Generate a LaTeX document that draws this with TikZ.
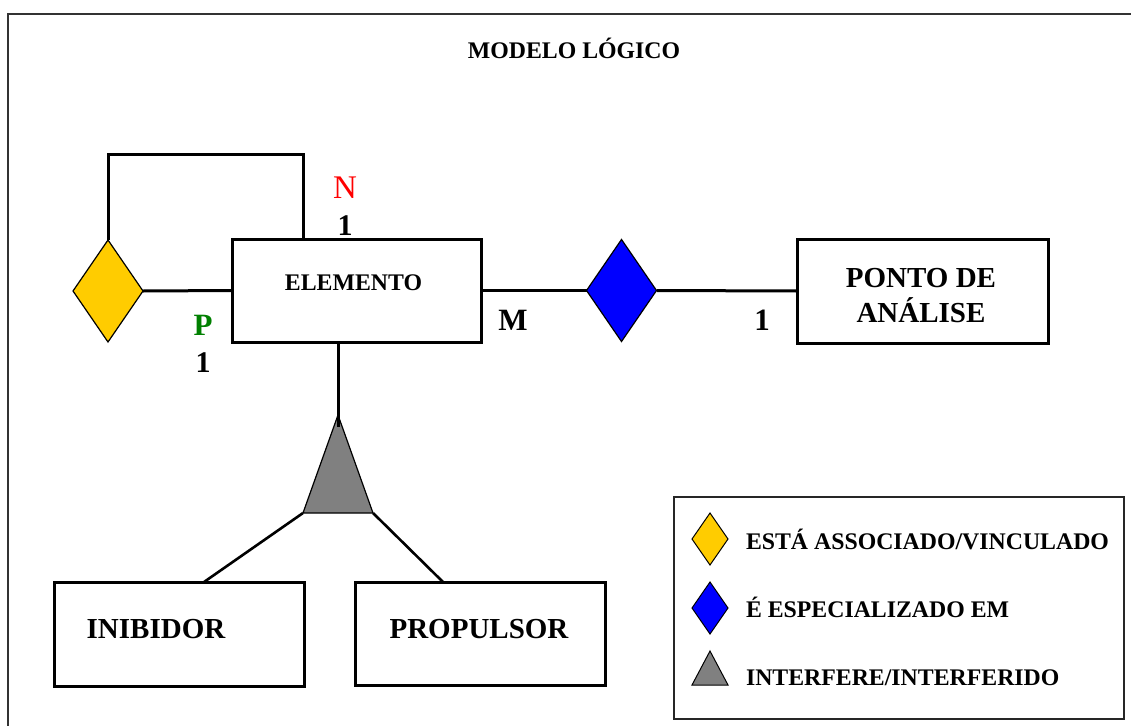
\documentclass[tikz,border=0pt]{standalone}
\usepackage{fontspec}
\setmainfont{Liberation Serif}
\usetikzlibrary{shapes.geometric,calc}

\definecolor{assocfill}{HTML}{FFCC00}
\definecolor{specfill}{HTML}{0000FF}
\definecolor{interfill}{HTML}{808080}
\definecolor{cardred}{HTML}{FF0000}
\definecolor{cardgreen}{HTML}{008000}

\begin{document}
\begin{tikzpicture}[x=1pt,y=-1pt,
  every node/.style={inner sep=0pt, outer sep=0pt},
  entitybox/.style={draw, line width=3pt, rectangle, fill=white},
  relation/.style={draw, line width=1.2pt, diamond, minimum width=70pt, minimum height=102pt},
  keyrelation/.style={draw, line width=1pt, diamond, minimum width=36pt, minimum height=52pt},
  link/.style={line width=3pt},
  bigtext/.style={font=\fontsize{29}{33}\selectfont\bfseries, anchor=base},
  smalltext/.style={font=\fontsize{23.8}{28}\selectfont\bfseries, anchor=base},
  cardtext/.style={font=\fontsize{31}{31}\selectfont\bfseries, anchor=base},
]
\clip (0,0) rectangle (1131,725);
\fill[white] (0,0) rectangle (1131,725);

% outer frame
\draw[line width=1.3pt, draw=black!80] (8,14) rectangle (1180,780);

% title
\node[smalltext] (title) at (574,58.5) {MODELO LÓGICO};

% entities
\node[entitybox, minimum width=249pt, minimum height=103pt] (elem) at (356.5,290.5) {};
\node[smalltext] (elemtext) at (353.5,290) {ELEMENTO};

\node[entitybox, minimum width=251pt, minimum height=104pt] (ponto) at (922.5,291) {};
\node[bigtext] (pontotext1) at (921,287) {PONTO DE};
\node[bigtext] (pontotext2) at (921,322) {ANÁLISE};

\node[entitybox, minimum width=250pt, minimum height=104pt] (inib) at (179,634) {};
\node[bigtext] (inibtext) at (156,638) {INIBIDOR};

\node[entitybox, minimum width=250pt, minimum height=103pt] (prop) at (480,633.5) {};
\node[bigtext] (proptext) at (479,638) {PROPULSOR};

% relationships
\node[relation, fill=assocfill] (assoc) at (108,291) {};
\node[relation, fill=specfill] (spec) at (621.5,290.5) {};

\coordinate (tA) at (338,415);
\coordinate (tL) at (303,513);
\coordinate (tR) at (373,513);
\draw[line width=1.2pt, fill=interfill, line join=round] (tA) -- (tL) -- (tR) -- cycle;

% connectors
\coordinate (loop) at (303,154);
\draw[link] (assoc.north) |- (loop) -- (loop |- elem.north);
\draw[link] (assoc.east) -- (elem.west);
\draw[link] (elem.east) -- (spec.west);
\draw[link] (spec.east) -- (ponto.west);
\draw[link] ([xshift=-18.5pt]elem.south) -- ($(tA)+(0,12)$);
\draw[line width=2.6pt] (tL) -- ([xshift=25pt]inib.north);
\draw[line width=2.6pt] (tR) -- ([xshift=-37pt]prop.north);

% cardinalities
\node[cardtext, text=cardred, font=\fontsize{33}{33}\selectfont] (cardN) at (345,198) {N};
\node[cardtext, font=\fontsize{30}{30}\selectfont\bfseries] (cardNone) at (345,235) {1};
\node[cardtext, text=cardgreen] (cardP) at (203,335) {P};
\node[cardtext, font=\fontsize{30}{30}\selectfont\bfseries] (cardPone) at (203,372) {1};
\node[cardtext] (cardM) at (513,330) {M};
\node[cardtext] (cardMone) at (762,330) {1};

% key
\node[draw, line width=1.5pt, draw=black!85, minimum width=450pt, minimum height=222pt, anchor=north west] (key) at (674,497) {};
\node[keyrelation, fill=assocfill] (keyassoc) at (710,539) {};
\node[keyrelation, fill=specfill] (keyspec) at (710,608) {};
\coordinate (kA) at (710,651);
\coordinate (kL) at (692,685);
\coordinate (kR) at (728,685);
\draw[line width=1pt, fill=interfill] (kA) -- (kL) -- (kR) -- cycle;
\node[smalltext, anchor=base west] (keyassoctext) at (746,549) {ESTÁ ASSOCIADO/VINCULADO};
\node[smalltext, anchor=base west] (keyspectext) at (746,617) {É ESPECIALIZADO EM};
\node[smalltext, anchor=base west] (keyintertext) at (746,685) {INTERFERE/INTERFERIDO};
\end{tikzpicture}
\end{document}
